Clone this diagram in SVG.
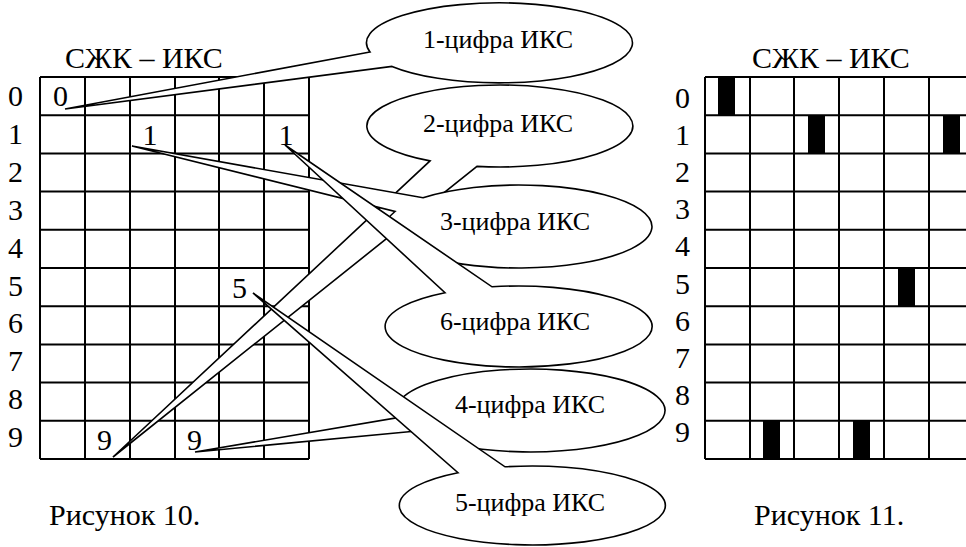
<svg xmlns="http://www.w3.org/2000/svg" width="966" height="547" viewBox="0 0 966 547">
<style>
.g{fill:none;stroke:#000;stroke-width:2}
.co{fill:#fff;stroke:#000;stroke-width:1.6;stroke-linejoin:miter}
.bar{fill:#000}
</style>
<rect width="966" height="547" fill="#fff"/>
<g id="fig10">
<text x="65" y="68" font-size="30" font-family="Times New Roman">СЖК – ИКС</text>
<path class="g" d="M40 77V459M85 77V459M130 77V459M175 77V459M219 77V459M264 77V459M309 77V459M40 77H309M40 115.2H309M40 153.4H309M40 191.6H309M40 229.8H309M40 268H309M40 306.2H309M40 344.4H309M40 382.6H309M40 420.8H309M40 459H309"/>
<text x="8" y="106" font-size="30" font-family="Times New Roman">0</text>
<text x="8" y="143.9" font-size="30" font-family="Times New Roman">1</text>
<text x="8" y="181.8" font-size="30" font-family="Times New Roman">2</text>
<text x="8" y="219.7" font-size="30" font-family="Times New Roman">3</text>
<text x="8" y="257.6" font-size="30" font-family="Times New Roman">4</text>
<text x="8" y="295.5" font-size="30" font-family="Times New Roman">5</text>
<text x="8" y="333.4" font-size="30" font-family="Times New Roman">6</text>
<text x="8" y="371.3" font-size="30" font-family="Times New Roman">7</text>
<text x="8" y="409.2" font-size="30" font-family="Times New Roman">8</text>
<text x="8" y="447.1" font-size="30" font-family="Times New Roman">9</text>
<text x="53" y="106" font-size="30" font-family="Times New Roman">0</text>
<text x="142.5" y="145" font-size="30" font-family="Times New Roman">1</text>
<text x="278.5" y="145" font-size="30" font-family="Times New Roman">1</text>
<text x="232" y="298" font-size="30" font-family="Times New Roman">5</text>
<text x="97" y="450" font-size="30" font-family="Times New Roman">9</text>
<text x="187" y="450" font-size="30" font-family="Times New Roman">9</text>
<text x="49" y="525" font-size="30" font-family="Times New Roman">Рисунок 10.</text>
</g>
<g id="callouts">
<g id="callout1"><path class="co" d="M370,52 A133,40 0 1 1 392,66.4 L65,109 Z"/><text x="498" y="48" font-size="26" font-family="Times New Roman" text-anchor="middle">1-цифра ИКС</text></g>
<g id="callout2"><path class="co" d="M430,160.9 A133,41 0 1 1 477,166.4 L113,457 Z"/><text x="498" y="132" font-size="26" font-family="Times New Roman" text-anchor="middle">2-цифра ИКС</text></g>
<g id="callout4"><path class="co" d="M398,417.6 A134.5,41.5 0 1 1 414,431.2 L195,452 Z"/><text x="530" y="413" font-size="26" font-family="Times New Roman" text-anchor="middle">4-цифра ИКС</text></g>
<g id="callout3"><path class="co" d="M423,197.8 A133,41.5 0 1 1 395,211.5 L132,146 Z"/><text x="515" y="230" font-size="26" font-family="Times New Roman" text-anchor="middle">3-цифра ИКС</text></g>
<g id="callout6"><path class="co" d="M492,286.8 A133.5,40.5 0 1 1 445,292.7 L285,145 Z"/><text x="515" y="330" font-size="26" font-family="Times New Roman" text-anchor="middle">6-цифра ИКС</text></g>
<g id="callout5"><path class="co" d="M505,466.8 A133,39.5 0 1 1 458,472.7 L253,293 Z"/><text x="530" y="511" font-size="26" font-family="Times New Roman" text-anchor="middle">5-цифра ИКС</text></g>
</g>
<g id="fig11">
<text x="752" y="68" font-size="30" font-family="Times New Roman">СЖК – ИКС</text>
<path class="g" d="M705 77V459M750 77V459M794 77V459M839 77V459M884 77V459M929 77V459M705 77H966M705 115.2H966M705 153.4H966M705 191.6H966M705 229.8H966M705 268H966M705 306.2H966M705 344.4H966M705 382.6H966M705 420.8H966M705 459H966"/>
<rect class="bar" x="718" y="77" width="17" height="38.2"/>
<rect class="bar" x="808" y="115.2" width="17" height="38.2"/>
<rect class="bar" x="943" y="115.2" width="17" height="38.2"/>
<rect class="bar" x="898" y="268" width="17" height="38.2"/>
<rect class="bar" x="763" y="420.8" width="17" height="38.2"/>
<rect class="bar" x="853" y="420.8" width="17" height="38.2"/>
<text x="675" y="108" font-size="30" font-family="Times New Roman">0</text>
<text x="675" y="145.1" font-size="30" font-family="Times New Roman">1</text>
<text x="675" y="182.2" font-size="30" font-family="Times New Roman">2</text>
<text x="675" y="219.3" font-size="30" font-family="Times New Roman">3</text>
<text x="675" y="256.4" font-size="30" font-family="Times New Roman">4</text>
<text x="675" y="293.5" font-size="30" font-family="Times New Roman">5</text>
<text x="675" y="330.6" font-size="30" font-family="Times New Roman">6</text>
<text x="675" y="367.7" font-size="30" font-family="Times New Roman">7</text>
<text x="675" y="404.8" font-size="30" font-family="Times New Roman">8</text>
<text x="675" y="441.9" font-size="30" font-family="Times New Roman">9</text>
<text x="754" y="525" font-size="30" font-family="Times New Roman">Рисунок 11.</text>
</g>
</svg>
